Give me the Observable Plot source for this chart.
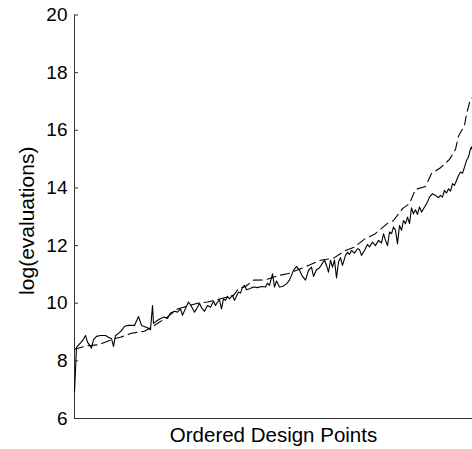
<!DOCTYPE html>
<html>
<head>
<meta charset="utf-8">
<script src="https://cdn.jsdelivr.net/npm/d3@7"></script>
<script src="https://cdn.jsdelivr.net/npm/@observablehq/plot@0.6"></script>
<style>
  html, body { margin: 0; padding: 0; background: #fff; }
  #chart svg { display: block; }
</style>
</head>
<body>
<div id="chart"></div>
<script>
// Observed values (solid line): design-point rank and log(evaluations)
const solidRank = [0, 2, 8, 11, 13, 17, 19, 22, 26, 31, 34, 37, 39, 41, 44, 47, 50, 54, 60, 64, 67, 69, 73, 76, 78, 79, 82, 86, 90, 93, 96, 100, 103, 106, 108, 111, 114, 117, 120, 123, 125, 127, 130, 133, 136, 139, 141, 143, 145, 147, 149, 151, 153, 155, 158, 160, 162, 164, 166, 168, 170, 172, 175, 179, 183, 187, 191, 193, 195, 198, 200, 202, 205, 208, 212, 215, 219, 222, 225, 228, 231, 234, 237, 239, 242, 245, 248, 250, 252, 254, 256, 258, 260, 262, 264, 266, 268, 271, 273, 275, 277, 280, 283, 285, 287, 290, 293, 295, 298, 301, 304, 307, 309, 311, 313, 315, 317, 319, 321, 323, 325, 327, 329, 331, 333, 335, 337, 339, 341, 343, 345, 347, 350, 353, 355, 358, 361, 364, 366, 368, 370, 372, 374, 376, 378, 380, 382, 384, 386, 388, 390, 392, 394, 396, 397, 398];
const solidLog = [6.92, 8.47, 8.7, 8.88, 8.65, 8.44, 8.74, 8.85, 8.88, 8.88, 8.82, 8.77, 8.5, 8.88, 8.95, 9.05, 9.2, 9.23, 9.23, 9.54, 9.23, 9.2, 9.15, 9.08, 9.92, 9.3, 9.38, 9.47, 9.52, 9.47, 9.66, 9.72, 9.69, 9.8, 9.58, 9.82, 10.04, 9.89, 9.69, 9.86, 10.0, 9.84, 9.72, 9.92, 9.86, 10.07, 9.92, 10.04, 10.12, 9.8, 10.15, 10.1, 10.24, 10.15, 10.27, 10.1, 10.24, 10.39, 10.35, 10.56, 10.62, 10.47, 10.5, 10.56, 10.54, 10.58, 10.56, 10.7, 10.62, 11.02, 10.56, 10.77, 10.56, 10.58, 10.67, 10.8, 11.14, 11.28, 11.14, 10.93, 10.8, 11.14, 11.25, 10.93, 11.16, 11.23, 11.39, 11.5, 11.31, 11.08, 11.49, 11.25, 11.5, 10.88, 11.43, 11.58, 11.31, 11.66, 11.77, 11.69, 11.83, 11.74, 11.89, 11.86, 11.66, 11.83, 12.04, 11.95, 12.12, 12.0, 12.18, 12.09, 12.41, 12.18, 12.0, 12.47, 12.41, 12.64, 12.53, 12.06, 12.7, 12.53, 12.87, 12.76, 12.99, 12.76, 13.31, 13.1, 13.24, 13.08, 13.34, 13.16, 13.34, 13.51, 13.68, 13.8, 13.74, 13.66, 13.74, 13.68, 13.92, 13.82, 13.97, 13.89, 14.15, 14.09, 14.26, 14.43, 14.55, 14.51, 14.72, 14.95, 15.07, 15.36, 15.42, 15.3];

// Predicted values (dashed line)
const dashRank = [0, 12, 24, 40, 46, 57, 70, 81, 92, 103, 109, 123, 133, 151, 159, 164, 171, 179, 191, 204, 214, 230, 246, 259, 271, 279, 291, 300, 313, 319, 328, 335, 341, 351, 357, 366, 375, 381, 384, 390, 392, 395, 398];
const dashLog = [8.4, 8.52, 8.56, 8.77, 8.82, 8.96, 9.03, 9.25, 9.5, 9.8, 9.86, 10.0, 10.04, 10.2, 10.27, 10.5, 10.58, 10.8, 10.81, 10.96, 11.03, 11.25, 11.49, 11.56, 11.83, 11.93, 12.25, 12.39, 12.77, 12.87, 13.28, 13.46, 13.95, 14.05, 14.5, 14.7, 14.99, 15.34, 15.8, 16.17, 16.55, 16.97, 17.15];

const yTicks = [6, 8, 10, 12, 14, 16, 18, 20];
const xLabel = "Ordered Design Points";
const yLabel = "log(evaluations)";

const solid = solidRank.map((r, i) => ({rank: r, value: solidLog[i]}));
const dashed = dashRank.map((r, i) => ({rank: r, value: dashLog[i]}));

const font = "'Liberation Sans', Arial, Helvetica, sans-serif";

const chart = Plot.plot({
  width: 472,
  height: 449,
  marginLeft: 74,
  marginRight: 0,
  marginTop: 14.5,
  marginBottom: 31,
  style: {fontFamily: font, background: "#fff", color: "#000"},
  x: {domain: [0, 398], axis: null},
  y: {domain: [6, 20], axis: null},
  marks: [
    Plot.axisY(yTicks, {anchor: "left", label: null, tickSize: 4, dx: 4, tickPadding: 7, fontSize: 19, stroke: "#333", fill: "#000"}),
    Plot.ruleX([0], {stroke: "#333", strokeWidth: 1}),
    Plot.ruleY([6], {stroke: "#333", strokeWidth: 1}),
    Plot.line(dashed, {x: "rank", y: "value", stroke: "#000", strokeWidth: 1.1, strokeDasharray: "9,5"}),
    Plot.line(solid, {x: "rank", y: "value", stroke: "#000", strokeWidth: 1.1}),
    Plot.text([xLabel], {frameAnchor: "bottom", textAnchor: "middle", lineAnchor: "middle", dy: 17, fontSize: 20.5, fill: "#000"}),
    Plot.text([yLabel], {frameAnchor: "left", textAnchor: "middle", lineAnchor: "middle", rotate: -90, dx: -47.5, dy: 4, fontSize: 21, fill: "#000"})
  ]
});

document.getElementById("chart").appendChild(chart);
</script>
</body>
</html>
